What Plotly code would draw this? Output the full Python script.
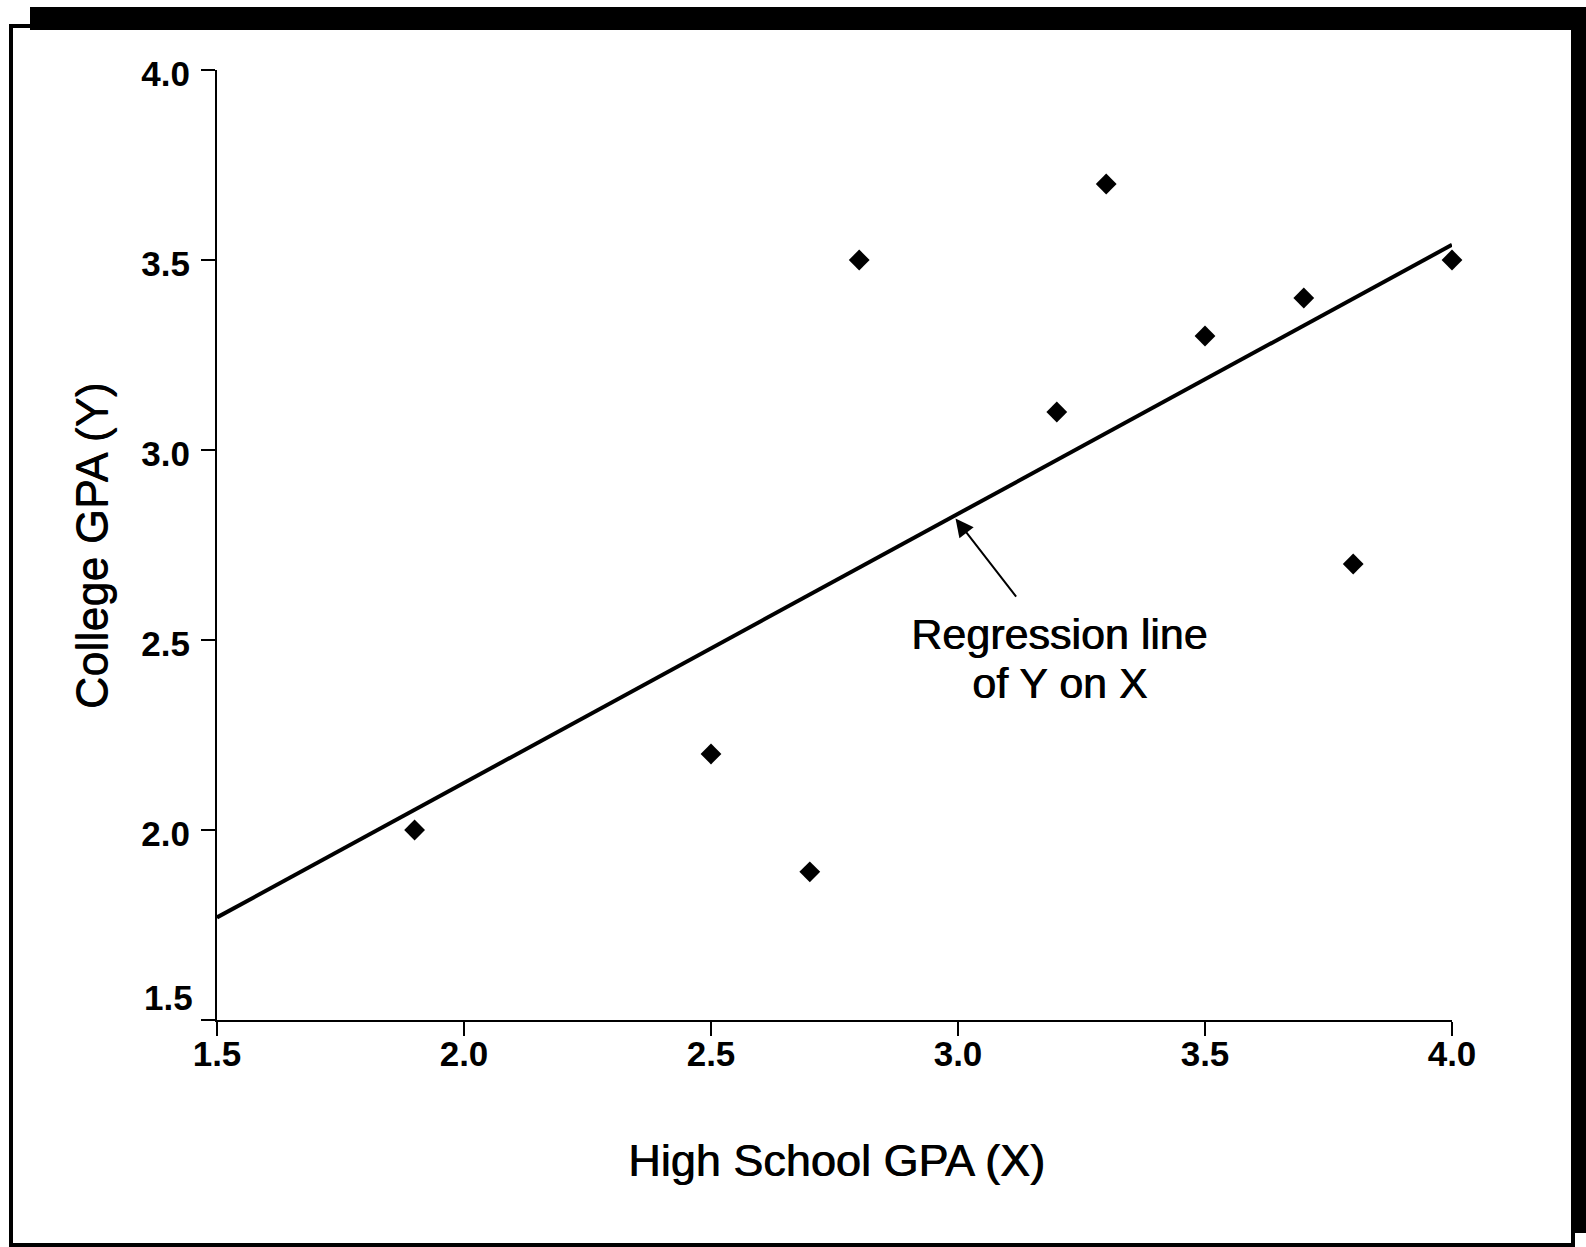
import plotly.graph_objects as go

# Data
hs_gpa = [1.9, 2.5, 2.7, 2.8, 3.2, 3.3, 3.5, 3.7, 3.8, 4.0]
college_gpa = [2.0, 2.2, 1.89, 3.5, 3.1, 3.7, 3.3, 3.4, 2.7, 3.5]
line_x = [1.5, 4.0]
line_y = [1.77, 3.54]
tick_vals = [1.5, 2.0, 2.5, 3.0, 3.5, 4.0]
tick_text = ["1.5", "2.0", "2.5", "3.0", "3.5", "4.0"]

W, H = 1586, 1247
L, R, T, B = 217, 1452, 70, 1020  # plot area pixel edges
PW, PH = R - L, B - T


def px(x):
    return (x - L) / PW


def py(y):
    return (B - y) / PH


FONT = "Liberation Sans, Arial, Helvetica, sans-serif"
HEAVY = "0.8px 0px 0px black"

fig = go.Figure()
fig.add_trace(go.Scatter(x=line_x, y=line_y, mode="lines",
                         line=dict(color="black", width=4),
                         hoverinfo="skip", cliponaxis=False))
fig.add_trace(go.Scatter(x=hs_gpa, y=college_gpa, mode="markers",
                         marker=dict(symbol="diamond", size=16, color="black"),
                         cliponaxis=False))

tickfont = dict(family=FONT, size=35, color="black", weight="bold")
axis_common = dict(range=[1.5, 4.0], showgrid=False, zeroline=False,
                   showline=True, linecolor="black", linewidth=2,
                   ticks="outside", ticklen=14, tickwidth=2, tickcolor="black",
                   tickvals=tick_vals, tickfont=tickfont)
fig.update_xaxes(**axis_common, ticktext=tick_text, ticklabelstandoff=-12)
fig.update_yaxes(**axis_common, ticktext=[""] + tick_text[1:], ticklabelstandoff=4,
                 ticklabelshift=4)

annotations = [
    # y tick 1.5 label (raised above the corner)
    dict(x=0, xref="paper", y=1.5, yref="y", text=tick_text[0], showarrow=False,
         xanchor="right", yanchor="middle", xshift=-22, yshift=23, font=tickfont),
    # axis titles
    dict(x=px(836), y=py(1160), xref="paper", yref="paper", text="High School GPA (X)",
         showarrow=False, xanchor="center", yanchor="middle",
         font=dict(family=FONT, size=45, color="black", shadow=HEAVY)),
    dict(x=px(92), y=py(546), xref="paper", yref="paper", text="College GPA (Y)",
         showarrow=False, xanchor="center", yanchor="middle", textangle=-90,
         font=dict(family=FONT, size=45, color="black", shadow="0px -0.8px 0px black")),
    # regression label
    dict(x=px(1059), y=py(634), xref="paper", yref="paper", text="Regression line",
         showarrow=False, xanchor="center", yanchor="middle",
         font=dict(family=FONT, size=43, color="black", shadow=HEAVY)),
    dict(x=px(1059), y=py(683), xref="paper", yref="paper", text="of Y on X",
         showarrow=False, xanchor="center", yanchor="middle",
         font=dict(family=FONT, size=43, color="black", shadow=HEAVY)),
    # arrow
    dict(x=2.995, y=2.82, xref="x", yref="y", ax=3.12, ay=2.61, axref="x", ayref="y",
         text="", showarrow=True, arrowhead=2, arrowsize=1.8, arrowwidth=2,
         arrowcolor="black", standoff=0),
]

shapes = [
    # inner box outline
    dict(type="rect", xref="paper", yref="paper", x0=px(11), x1=px(1573),
         y0=py(1245), y1=py(26), line=dict(color="black", width=4), layer="below"),
    # heavy shadow bars top and right
    dict(type="rect", xref="paper", yref="paper", x0=px(30), x1=px(1590),
         y0=py(30), y1=py(7), fillcolor="black", line=dict(width=0)),
    dict(type="rect", xref="paper", yref="paper", x0=px(1572), x1=px(1590),
         y0=py(1233), y1=py(7), fillcolor="black", line=dict(width=0)),
]

fig.update_layout(
    width=W, height=H,
    margin=dict(l=L, r=W - R, t=T, b=H - B),
    paper_bgcolor="white", plot_bgcolor="white",
    showlegend=False,
    annotations=annotations,
    shapes=shapes,
)

fig.write_html("out.html")
